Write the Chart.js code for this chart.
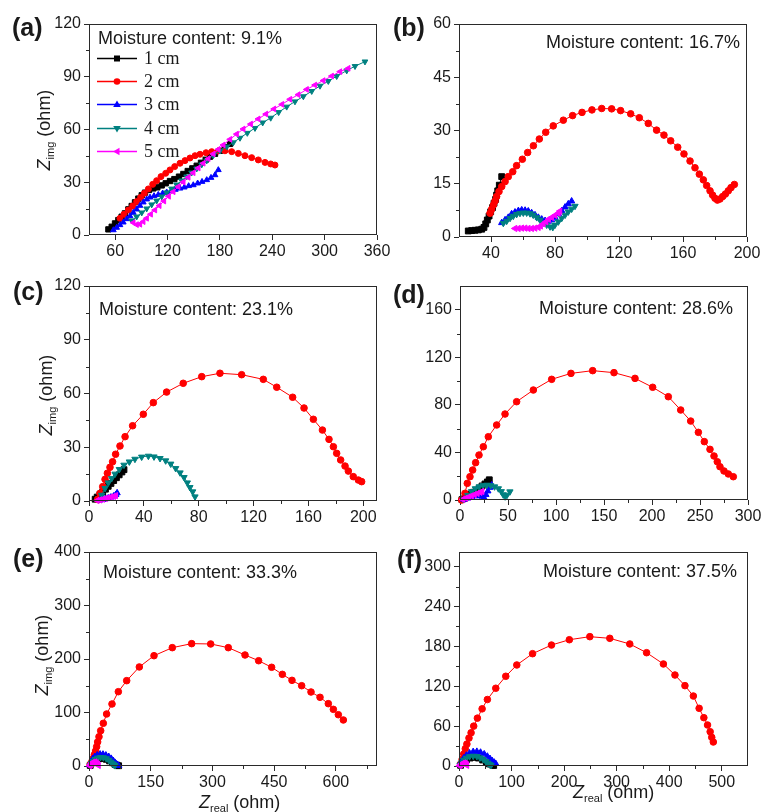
<!DOCTYPE html>
<html><head><meta charset="utf-8">
<script src="https://cdn.jsdelivr.net/npm/chart.js@4.4.1/dist/chart.umd.min.js"></script>
<style>
html,body{margin:0;padding:0;background:#fff;width:761px;height:812px;overflow:hidden;position:relative;font-family:"Liberation Sans",Arial,sans-serif;color:#1a1a1a;}
canvas{position:absolute;left:0;top:0;}
.lbl{position:absolute;white-space:nowrap;}
.plab{font-weight:bold;font-size:25px;line-height:25px;}
.mc{font-size:18px;line-height:18px;}
.leg{font-family:"Liberation Serif","Times New Roman",serif;font-size:18px;line-height:18px;}
.yt{position:absolute;width:140px;height:24px;line-height:24px;text-align:center;font-size:18px;transform:rotate(-90deg);white-space:nowrap;}
.xt{font-size:18px;line-height:18px;}
sub{font-size:11px;vertical-align:-4px;line-height:0;}
i{font-style:italic;}
</style>
</head><body>
<script>
// ---------------- DATA ----------------
const seriesNames = ['1 cm','2 cm','3 cm','4 cm','5 cm'];
const moisture = ['9.1%','16.7%','23.1%','28.6%','33.3%','37.5%'];

// tick labels
const aXTicks=[60,120,180,240,300,360], aYTicks=[0,30,60,90,120];
const bXTicks=[40,80,120,160,200], bYTicks=[0,15,30,45,60];
const cXTicks=[0,40,80,120,160,200], cYTicks=[0,30,60,90,120];
const dXTicks=[0,50,100,150,200,250,300], dYTicks=[0,40,80,120,160];
const eXTicks=[0,150,300,450,600], eYTicks=[0,100,200,300,400];
const fXTicks=[0,100,200,300,400,500], fYTicks=[0,60,120,180,240,300];

// (a) 9.1 %
const a_1cm=[[52.2,3.2],[56.0,4.7],[59.8,6.6],[63.6,8.5],[67.4,10.4],[71.2,12.3],[75.1,14.6],[78.9,16.5],[82.7,18.6],[86.5,20.7],[90.4,22.6],[94.2,24.1],[98.8,25.6],[103.7,26.5],[108.3,27.1],[113.3,28.2],[117.9,29.4],[122.8,30.7],[127.8,31.8],[133.1,33.2],[138.1,34.7],[143.1,36.4],[148.4,37.9],[153.4,39.4],[158.3,41.1],[163.7,42.8],[168.6,44.5],[174.4,46.2],[180.1,47.9],[185.8,49.9],[191.6,51.8]];
const a_2cm=[[65.5,9.5],[70.1,11.8],[75.1,14.2],[80.0,16.5],[84.6,19.0],[89.2,21.4],[93.4,23.7],[98.0,26.2],[103.0,28.8],[107.5,30.9],[112.5,33.2],[117.9,35.1],[122.8,37.0],[128.2,38.9],[134.3,40.8],[140.0,42.3],[145.7,43.8],[151.5,45.1],[157.2,45.9],[164.1,46.8],[170.6,47.4],[178.2,47.8],[185.8,47.9],[193.5,47.4],[201.1,46.4],[208.7,45.1],[216.4,44.0],[224.0,42.7],[231.7,41.3],[238.2,40.4],[243.1,39.8]];
const a_3cm=[[57.9,2.8],[61.7,4.2],[65.5,5.7],[69.3,7.2],[73.2,9.1],[77.0,10.8],[80.8,12.7],[84.6,14.6],[88.4,16.7],[92.2,18.6],[96.1,20.3],[99.9,21.4],[104.5,22.2],[109.4,22.9],[114.4,23.7],[119.0,24.3],[124.0,25.0],[128.9,25.8],[134.3,26.5],[139.2,27.1],[144.2,27.9],[149.5,28.4],[154.5,29.4],[159.5,30.3],[164.9,31.3],[169.8,32.6],[174.4,34.1],[178.2,37.0]];
const a_4cm=[[78.9,8.2],[84.6,10.4],[90.4,12.7],[96.1,15.0],[101.8,17.3],[107.5,19.5],[113.3,21.8],[119.0,24.1],[124.7,26.3],[130.4,28.6],[136.2,30.9],[141.9,33.2],[147.6,35.4],[153.4,37.7],[159.1,40.0],[164.9,42.3],[172.5,45.3],[180.1,47.9],[187.8,50.2],[195.4,52.6],[203.0,55.2],[211.4,58.0],[220.2,60.8],[229.0,63.9],[238.2,66.6],[247.3,69.8],[256.5,72.9],[266.0,75.9],[275.6,78.8],[285.2,81.8],[294.7,84.8],[304.2,87.5],[313.8,90.3],[325.3,93.5],[334.8,96.0],[346.2,98.6]];
const a_5cm=[[80.8,7.0],[84.6,5.9],[88.4,6.1],[92.2,7.6],[96.1,9.5],[100.7,11.8],[105.6,14.2],[110.6,16.7],[115.9,19.3],[121.3,22.0],[126.6,24.6],[132.3,27.5],[138.1,30.1],[143.8,32.8],[149.5,35.4],[155.3,38.1],[161.0,40.8],[166.7,43.4],[172.5,46.1],[178.2,48.7],[183.9,51.2],[191.6,54.4],[199.2,57.4],[206.8,60.3],[215.3,63.1],[224.0,66.0],[232.8,68.8],[242.0,71.7],[251.1,74.3],[260.3,77.2],[269.8,79.8],[279.4,82.8],[288.9,85.3],[298.5,87.8],[308.1,90.4],[317.6,92.9],[327.1,94.8]];

// (b) 16.7 %
const b_1cm=[[25.8,1.7],[27.9,1.8],[30.0,1.9],[32.1,2.0],[34.2,2.2],[35.6,2.7],[36.7,3.7],[37.7,4.8],[38.8,5.9],[39.8,7.1],[41.0,8.3],[41.9,9.5],[42.9,10.6],[43.5,11.8],[44.2,13.0],[45.2,14.6],[46.7,17.0]];
const b_2cm=[[39.4,6.7],[40.4,7.8],[41.5,9.0],[42.5,10.1],[43.5,11.4],[45.0,12.8],[46.7,14.2],[48.8,15.6],[50.8,17.0],[53.6,18.4],[56.0,20.1],[59.6,21.9],[62.9,23.8],[66.5,25.7],[70.2,27.6],[74.2,29.5],[78.9,31.3],[85.2,32.9],[91.0,34.2],[96.9,35.1],[103.1,35.8],[109.2,36.2],[115.4,36.1],[121.0,35.6],[127.3,34.7],[132.7,33.6],[138.3,32.0],[143.5,30.1],[148.1,28.7],[152.3,27.1],[156.7,25.3],[160.6,23.4],[164.4,21.4],[167.5,19.5],[170.2,17.7],[172.7,16.1],[174.8,14.5],[176.9,13.0],[178.5,11.8],[180.0,10.9],[181.5,10.4],[183.1,10.7],[184.8,11.4],[186.5,12.1],[188.3,13.0],[190.0,13.9],[192.1,14.8]];
const b_3cm=[[46.7,4.0],[48.8,4.8],[50.8,5.5],[52.9,6.5],[55.0,7.0],[57.1,7.4],[59.2,7.6],[61.3,7.5],[63.3,7.3],[65.4,6.8],[67.5,6.2],[69.6,5.5],[71.7,5.0],[73.8,4.6],[75.8,4.4],[77.9,4.8],[80.0,5.5],[82.1,6.5],[84.2,7.4],[86.3,8.4],[88.3,9.3],[90.4,10.1]];
const b_4cm=[[47.7,3.9],[49.8,4.5],[51.9,5.3],[53.9,5.9],[56.0,6.4],[58.1,6.7],[60.2,6.8],[62.3,6.8],[64.4,6.6],[66.4,6.2],[68.6,5.5],[70.6,4.8],[72.7,4.0],[74.8,3.4],[76.9,2.9],[78.6,2.7],[80.0,3.4],[82.1,4.3],[84.2,5.3],[86.3,6.2],[88.3,7.1],[90.4,7.9],[92.5,8.7]];
const b_5cm=[[55.0,2.4],[57.1,2.4],[59.2,2.5],[61.3,2.5],[63.3,2.4],[65.4,2.4],[67.5,2.5],[69.6,2.7],[71.0,3.1],[72.7,3.7],[74.4,4.3],[76.0,5.0],[77.9,5.5],[80.0,6.1],[82.1,6.7],[83.1,7.3]];

// (c) 23.1 %
const c_1cm=[[4.5,1.0],[6,2.2],[8,3.6],[10,5.0],[12,6.6],[14,8.2],[16,9.8],[18,11.4],[20,13.0],[22,14.6],[24,16.2],[25.5,17.5]];
const c_2cm=[[6.3,0.9],[8.0,4.3],[10.0,8.0],[11.7,12.1],[13.4,15.5],[15.3,18.8],[17.2,21.9],[19.4,26.1],[22.6,30.7],[26.3,35.9],[31.8,42.0],[39.6,48.4],[46.9,54.9],[56.6,60.8],[68.7,65.7],[82.2,69.4],[95.5,71.3],[111.3,70.5],[127.1,67.9],[136.9,63.5],[148.5,57.9],[156.8,51.9],[163.6,45.6],[170.2,39.6],[175.0,34.4],[178.2,30.3],[180.6,26.6],[183.5,22.9],[186.7,19.5],[189.1,16.7],[192.7,13.6],[196.4,11.7],[198.8,10.8]];
const c_3cm=[[8,0.5],[10,0.8],[12,1.2],[14,1.6],[16,2.1],[18,2.7],[19.5,3.5],[20.5,4.5]];
const c_4cm=[[9.2,3.3],[11.7,7.1],[14.1,10.2],[16.5,12.6],[19.0,15.1],[22.1,17.7],[25.5,20.1],[29.4,21.9],[33.5,23.4],[38.4,24.6],[43.3,25.1],[47.4,24.7],[51.8,23.8],[55.9,22.5],[59.6,20.7],[63.2,18.2],[66.4,15.8],[69.3,13.2],[71.7,10.2],[73.6,7.6],[75.6,5.2],[77.3,2.4]];
const c_5cm=[[6,0.3],[8,0.6],[10,1.0],[12,1.4],[14,1.8],[16,2.2],[18,2.6],[19.5,3.0]];

// (d) 28.6 %
const d_1cm=[[2,0.3],[5,1.5],[8,3],[11,4.8],[14,6.5],[17,8.2],[20,10],[23,11.8],[26,13.5],[28.5,15.2],[30.5,17]];
const d_2cm=[[1.7,0.0],[5.2,5.6],[7.6,14.0],[10.4,19.6],[13.2,25.2],[16.3,31.4],[19.8,37.8],[24.3,44.8],[29.5,53.2],[38.2,63.1],[46.9,72.3],[59.0,82.7],[76.4,92.5],[95.5,101.5],[115.6,106.5],[138.2,108.8],[160.4,107.1],[182.3,102.3],[200.7,94.8],[217.0,86.9],[229.9,75.7],[240.3,66.4],[248.3,56.9],[254.5,49.1],[260.4,42.6],[264.6,37.0],[268.0,32.2],[270.8,28.0],[275.0,24.4],[279.5,21.9],[284.7,19.6]];
const d_3cm=[[4,0.5],[8,1.5],[12,2.5],[16,3.3],[20,3.8],[23,3],[25,2],[27,4.5],[29,7.5],[31,10.5],[33,12.5]];
const d_4cm=[[3.5,0.5],[8,4],[12,7.2],[16,9.6],[20,11.2],[24,12.2],[28,12.6],[32,12.2],[36,11.2],[40,9.6],[43,7.2],[45,4.5],[47,2.8],[49,4.2],[52,7]];
const d_5cm=[[3,0.5],[6,1.5],[9,2.5],[12,3.5],[15,4.5],[18,5.5],[21,6.5],[23,7.2]];

// (e) 33.3 %
const e_1cm=[[3,1],[8,6],[15,10.5],[24,13.5],[33,14],[42,12.5],[50,9.5],[57,6],[63,3],[68,1.5],[72,0.5]];
const e_2cm=[[3,3],[7,8],[10.5,14.3],[13,21],[16,28],[18.6,36.1],[21,45],[24.3,54.8],[28.4,66.0],[34.8,79.8],[42.8,97.2],[55.9,115.9],[71.3,138.9],[91.6,159.5],[122.3,185.1],[158.0,206.2],[202.5,221.2],[249.5,228.7],[295.7,228.1],[338.6,221.2],[379.2,207.5],[412.3,196.8],[443.9,184.5],[469.9,171.3],[493.4,160.1],[516.9,150.1],[539.6,138.3],[561.5,128.4],[581.7,116.5],[593.9,105.9],[606.0,95.9],[618.2,86.0]];
const e_3cm=[[2,2],[5,8],[9,13.5],[14,17.5],[20,20.5],[27,22],[34,21.8],[41,20.2],[48,17.5],[54,14],[59,10],[63,6.5],[67,3.5],[70,1.5],[72,0.5]];
const e_4cm=[[3,1.5],[6,5],[10,9],[15,12.5],[21,15],[28,16.2],[35,15.8],[42,14],[48,11],[53,7.5],[57,4.5],[60,2.5],[63,1]];
const e_5cm=[[2,0.5],[4,3],[7,5.5],[10,7],[14,7.5],[18,6],[21,3.5],[23,1]];

// (f) 37.5 %
const f_1cm=[[3,1],[8,5],[14,9],[21,12],[29,13],[37,12],[45,9],[52,5.5],[58,3],[63,1.5],[66,0.8]];
const f_2cm=[[3,3],[6,10],[9,18],[12,26],[15,33],[19,42],[23,50],[28,60],[35,72],[44,86],[54,100],[70,117],[89,135],[110,152],[140,169],[176,182],[210,190],[249,194.6],[287,192.1],[325,183.6],[357,170.5],[389,153.5],[411,136.9],[430,120.9],[446,105.3],[457,86.8],[466,72.7],[473,61.7],[478,51.6],[481,43.1],[484,36.1]];
const f_3cm=[[2,2],[5,7],[9,12],[14,16],[20,19.5],[27,21.5],[34,21.8],[41,20.5],[48,18],[54,14.5],[59,11],[63,8],[67,5.5],[70,3.5]];
const f_4cm=[[2,1.5],[5,5],[9,9],[14,12],[20,14.2],[27,15],[34,14.5],[40,12.5],[46,10],[51,7],[55,4.5],[58,2.5],[61,1.2]];
const f_5cm=[[1,0.5],[3,2],[6,3.5],[9,4.5],[12,4],[14,2.5],[15,1]];

// ---------------- STYLE / LAYOUT ----------------
const STY=[
 {color:'#000000',ps:'rect',rot:0,rk:1.25},
 {color:'#ff0000',ps:'circle',rot:0,rk:1},
 {color:'#0000ff',ps:'triangle',rot:0,rk:1.1},
 {color:'#008080',ps:'triangle',rot:180,rk:1.1},
 {color:'#ff00ff',ps:'triangle',rot:270,rk:1.1}
];
const CW=800, CH=850, YW=50, XH=40;
const panels=[
 {lab:'(a)',labPos:[12,15],mc:[98,29],area:[89,24,377,235],xr:[30,360],yr:[0,120],xt:aXTicks,yt:aYTicks,xMinor:false,data:[a_1cm,a_2cm,a_3cm,a_4cm,a_5cm],r:3},
 {lab:'(b)',labPos:[393,15],mc:[546,33],area:[459,24,747,237],xr:[20,200],yr:[0,60],xt:bXTicks,yt:bYTicks,xMinor:true,data:[b_1cm,b_2cm,b_3cm,b_4cm,b_5cm],r:3.3},
 {lab:'(c)',labPos:[13,279],mc:[99,300],area:[89,286,377,501],xr:[0,210],yr:[0,120],xt:cXTicks,yt:cYTicks,xMinor:true,data:[c_1cm,c_2cm,c_3cm,c_4cm,c_5cm],r:3.3},
 {lab:'(d)',labPos:[393,282],mc:[539,299],area:[460,286,748,500],xr:[0,300],yr:[0,180],xt:dXTicks,yt:dYTicks,xMinor:true,data:[d_1cm,d_2cm,d_3cm,d_4cm,d_5cm],r:3.3},
 {lab:'(e)',labPos:[13,546],mc:[103,563],area:[89,552,377,766],xr:[0,700],yr:[0,400],xt:eXTicks,yt:eYTicks,xMinor:true,data:[e_1cm,e_2cm,e_3cm,e_4cm,e_5cm],r:3.3},
 {lab:'(f)',labPos:[397,547],mc:[543,562],area:[459,552,748,766],xr:[0,550],yr:[0,322],xt:fXTicks,yt:fYTicks,xMinor:true,data:[f_1cm,f_2cm,f_3cm,f_4cm,f_5cm],r:3.3}
];

const AXC='#2a2a2a';
const framePlugin={
 id:'frame',
 afterDatasetsDraw(chart,args,opts){
  const {ctx,chartArea:a,scales:{x,y}}=chart;
  ctx.save();
  ctx.strokeStyle=AXC; ctx.lineWidth=1;
  const L=Math.round(a.left)+0.5,T=Math.round(a.top)+0.5,R=Math.round(a.right)-0.5,B=Math.round(a.bottom)-0.5;
  ctx.strokeRect(L,T,R-L,B-T);
  ctx.beginPath();
  const minors=(sc)=>{const t=sc.ticks.map(k=>k.value);const st=t[1]-t[0];const out=[];
    for(let v=t[0]-st/2; v<=sc.max+1e-9; v+=st){ if(v>sc.min+1e-9 && v<sc.max-1e-9) out.push(v);} return out;};
  if(opts.xMinor){ for(const v of minors(x)){const p=Math.round(x.getPixelForValue(v))+0.5; ctx.moveTo(p,B); ctx.lineTo(p,B+3.5);} }
  for(const v of minors(y)){const p=Math.round(y.getPixelForValue(v))+0.5; ctx.moveTo(L,p); ctx.lineTo(L-3.5,p);}
  ctx.stroke();
  ctx.restore();
 }
};

const tickFont={family:'"Liberation Sans", Arial, sans-serif',size:16};
function makePanel(p){
 const cv=document.createElement('canvas');
 cv.width=CW; cv.height=CH; cv.style.width=CW+'px'; cv.style.height=CH+'px';
 document.body.appendChild(cv);
 const ds=p.data.map((d,i)=>{const s=STY[i];const rr=p.r*s.rk;return {
   label:seriesNames[i], data:d.map(([x,y])=>({x,y})), showLine:true,
   borderColor:s.color, borderWidth:1, backgroundColor:s.color,
   pointStyle:s.ps, rotation:s.rot, pointRadius:rr, pointBackgroundColor:s.color, pointBorderColor:s.color, pointBorderWidth:1,
   order:4-i, clip:6, tension:0 };});
 new Chart(cv,{type:'scatter',data:{datasets:ds},
  options:{responsive:false,animation:false,devicePixelRatio:1,events:[],
   layout:{padding:{left:p.area[0]-YW,top:p.area[1],right:CW-p.area[2],bottom:CH-p.area[3]-XH}},
   plugins:{legend:{display:false},tooltip:{enabled:false},frame:{xMinor:p.xMinor}},
   scales:{
    x:{type:'linear',min:p.xr[0],max:p.xr[1],
       afterBuildTicks:s=>{s.ticks=p.xt.map(v=>({value:v}));},
       afterFit:s=>{s.height=XH;s.paddingLeft=0;s.paddingRight=0;},
       ticks:{font:tickFont,color:'#1a1a1a',padding:2,maxRotation:0,autoSkip:false},
       grid:{drawOnChartArea:false,drawTicks:true,tickLength:5,color:AXC,lineWidth:1},border:{display:false}},
    y:{type:'linear',min:p.yr[0],max:p.yr[1],
       afterBuildTicks:s=>{s.ticks=p.yt.map(v=>({value:v}));},
       afterFit:s=>{s.width=YW;s.paddingTop=0;s.paddingBottom=0;},
       ticks:{font:tickFont,color:'#1a1a1a',padding:3,autoSkip:false},
       grid:{drawOnChartArea:false,drawTicks:true,tickLength:5,color:AXC,lineWidth:1},border:{display:false}}
   }},
  plugins:[framePlugin]});
}
panels.forEach(makePanel);

function addDiv(cls,html,left,top){const d=document.createElement('div');d.className='lbl '+cls;d.innerHTML=html;d.style.left=left+'px';d.style.top=top+'px';document.body.appendChild(d);return d;}
panels.forEach((p,i)=>{
 addDiv('plab',p.lab,p.labPos[0],p.labPos[1]);
 addDiv('mc','Moisture content: '+moisture[i],p.mc[0],p.mc[1]);
});
// y titles
[[44,130],[46,395],[42,655]].forEach(([cx,cy])=>{
 const d=document.createElement('div');d.className='yt';
 d.innerHTML='<i>Z</i><sub>img</sub> (ohm)';
 d.style.left=(cx-70)+'px';d.style.top=(cy-12)+'px';document.body.appendChild(d);
});
// x titles
addDiv('xt','<i>Z</i><sub>real</sub> (ohm)',199,793);
addDiv('xt','<i>Z</i><sub>real</sub> (ohm)',573,783);

// legend in (a)
const legY=[58,81,104,128,151];
seriesNames.forEach((n,i)=>{
 const s=STY[i], cy=legY[i];
 const svgNS='http://www.w3.org/2000/svg';
 const svg=document.createElementNS(svgNS,'svg');
 svg.setAttribute('width','44');svg.setAttribute('height','12');
 svg.style.position='absolute';svg.style.left='95px';svg.style.top=(cy-6)+'px';
 const ln=document.createElementNS(svgNS,'line');
 ln.setAttribute('x1','2');ln.setAttribute('x2','42');ln.setAttribute('y1','6.5');ln.setAttribute('y2','6.5');
 ln.setAttribute('stroke',s.color);ln.setAttribute('stroke-width','1.3');svg.appendChild(ln);
 let m;
 if(s.ps==='rect'){m=document.createElementNS(svgNS,'rect');m.setAttribute('x','19');m.setAttribute('y','3.5');m.setAttribute('width','6');m.setAttribute('height','6');}
 else if(s.ps==='circle'){m=document.createElementNS(svgNS,'circle');m.setAttribute('cx','22');m.setAttribute('cy','6.5');m.setAttribute('r','3.3');}
 else {m=document.createElementNS(svgNS,'polygon');
   const pts={0:'22,2.5 25.8,9 18.2,9',180:'22,10.5 25.8,4 18.2,4',270:'18,6.5 24.5,2.7 24.5,10.3'}[s.rot];
   m.setAttribute('points',pts);}
 m.setAttribute('fill',s.color);svg.appendChild(m);
 document.body.appendChild(svg);
 addDiv('leg',n,144,cy-9);
});
</script>
</body></html>
